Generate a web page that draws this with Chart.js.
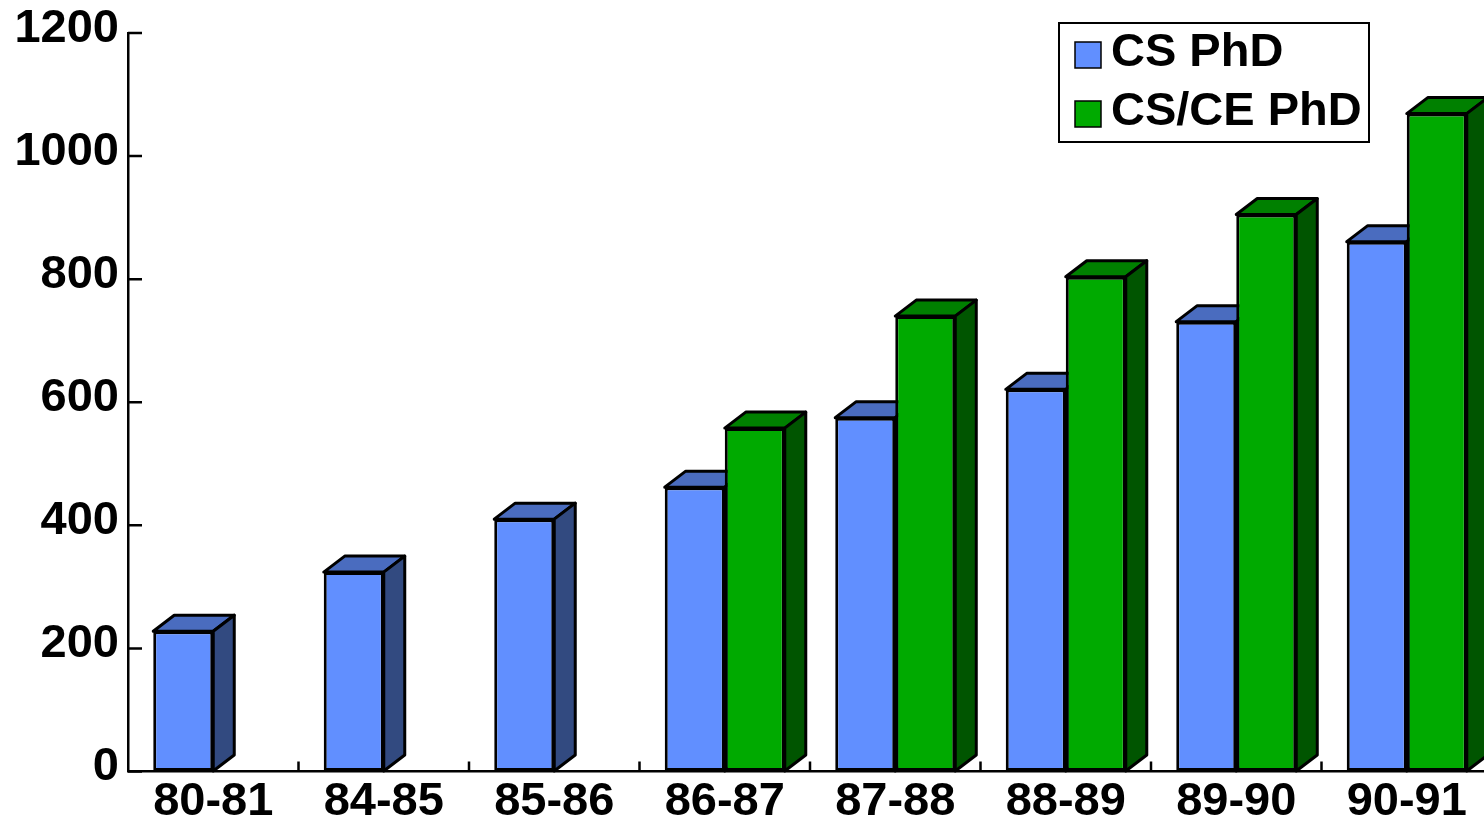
<!DOCTYPE html>
<html>
<head>
<meta charset="utf-8">
<script src="https://cdn.jsdelivr.net/npm/chart.js@4/dist/chart.umd.min.js"></script>
<style>
  html, body { margin: 0; padding: 0; background: #fff; overflow: hidden; }
  #wrap { width: 1500px; height: 823px; }
</style>
</head>
<body>
<div id="wrap"><canvas id="c" width="1500" height="823"></canvas></div>
<script>
// Academic years on the category axis
const years = ['80-81', '84-85', '85-86', '86-87', '87-88', '88-89', '89-90', '90-91'];
// PhDs awarded per year
const csPhd = [228, 324, 410, 462, 575, 621, 731, 861];
const csCePhd = [null, null, null, 558, 740, 804, 905, 1069];
// Value axis ticks
const yTicks = [0, 200, 400, 600, 800, 1000, 1200];

const FONT = 'Liberation Sans, Arial, sans-serif';
const FONT_SIZE = 47;

// Face colours for each series: front, top, side
const faces = [
  { front: '#618fff', top: '#4a6cbf', side: '#324a80' },
  { front: '#00aa00', top: '#008000', side: '#005500' }
];
const DEPTH_X = 21, DEPTH_Y = 16;

function poly(ctx, pts, fill) {
  ctx.beginPath();
  ctx.moveTo(pts[0][0], pts[0][1]);
  for (let i = 1; i < pts.length; i++) ctx.lineTo(pts[i][0], pts[i][1]);
  ctx.closePath();
  ctx.fillStyle = fill;
  ctx.fill();
  ctx.stroke();
}

// Top and right faces behind the bar fronts
const extrude = {
  id: 'extrude',
  beforeDatasetsDraw(chart) {
    const ctx = chart.ctx;
    ctx.save();
    ctx.lineWidth = 3;
    ctx.strokeStyle = '#000';
    ctx.lineJoin = 'round';
    chart.data.datasets.forEach((ds, di) => {
      const meta = chart.getDatasetMeta(di);
      meta.data.forEach((bar, i) => {
        if (ds.data[i] == null) return;
        const p = bar.getProps(['x', 'y', 'base', 'width'], true);
        const L = p.x - p.width / 2, R = p.x + p.width / 2, T = p.y, B = p.base;
        poly(ctx, [[L, T], [L + DEPTH_X, T - DEPTH_Y], [R + DEPTH_X, T - DEPTH_Y], [R, T]], faces[di].top);
        poly(ctx, [[R, T], [R + DEPTH_X, T - DEPTH_Y], [R + DEPTH_X, B - DEPTH_Y], [R, B]], faces[di].side);
      });
    });
    ctx.restore();
  }
};

// Inward tick marks and the framed legend
const decor = {
  id: 'decor',
  afterDraw(chart) {
    const ctx = chart.ctx;
    const xs = chart.scales.x, ys = chart.scales.y;
    const area = chart.chartArea;
    ctx.save();
    ctx.strokeStyle = '#000';
    ctx.lineWidth = 2.5;
    ctx.beginPath();
    yTicks.forEach(v => {
      const y = ys.getPixelForValue(v);
      ctx.moveTo(area.left, y);
      ctx.lineTo(area.left + 14, y);
    });
    for (let i = 0; i < years.length - 1; i++) {
      const x = (xs.getPixelForValue(i) + xs.getPixelForValue(i + 1)) / 2;
      ctx.moveTo(x, area.bottom);
      ctx.lineTo(x, area.bottom - 10);
    }
    ctx.stroke();

    // legend
    ctx.lineWidth = 2;
    ctx.fillStyle = '#fff';
    ctx.fillRect(1059, 23, 310, 119);
    ctx.strokeRect(1059, 23, 310, 119);
    ctx.font = 'bold ' + FONT_SIZE + 'px ' + FONT;
    ctx.textBaseline = 'alphabetic';
    ctx.textAlign = 'left';
    const baselines = [66, 125];
    chart.data.datasets.forEach((ds, di) => {
      const b = baselines[di];
      ctx.fillStyle = faces[di].front;
      ctx.lineWidth = 1.5;
      ctx.fillRect(1075, b - 24, 26, 26);
      ctx.strokeRect(1075, b - 24, 26, 26);
      ctx.fillStyle = '#000';
      ctx.fillText(ds.label, 1111, b);
    });
    ctx.restore();
  }
};

new Chart(document.getElementById('c'), {
  type: 'bar',
  data: {
    labels: years,
    datasets: [
      { label: 'CS PhD', data: csPhd, backgroundColor: faces[0].front },
      { label: 'CS/CE PhD', data: csCePhd, backgroundColor: faces[1].front }
    ]
  },
  options: {
    responsive: false,
    devicePixelRatio: 1,
    animation: false,
    layout: { padding: { top: 33, right: 8, left: 0, bottom: 0 } },
    datasets: {
      bar: {
        categoryPercentage: 0.704,
        barPercentage: 1.0,
        borderColor: '#000',
        borderWidth: 3,
        borderSkipped: false
      }
    },
    plugins: {
      legend: { display: false },
      tooltip: { enabled: false }
    },
    scales: {
      x: {
        offset: true,
        grid: { drawOnChartArea: false, drawTicks: false },
        border: { color: '#000', width: 2.5 },
        ticks: { color: '#000', padding: 2, font: { family: FONT, size: FONT_SIZE, weight: 'bold' } },
        afterFit(scale) { scale.height = 51.5; }
      },
      y: {
        min: 0,
        max: 1200,
        afterBuildTicks(scale) { scale.ticks = yTicks.map(v => ({ value: v })); },
        grid: { drawOnChartArea: false, drawTicks: false },
        border: { color: '#000', width: 2.5 },
        ticks: {
          color: '#000',
          padding: 9,
          labelOffset: -4,
          callback: v => String(v),
          font: { family: FONT, size: FONT_SIZE, weight: 'bold', lineHeight: 1 }
        },
        afterFit(scale) { scale.width = 128; }
      }
    }
  },
  plugins: [extrude, decor]
});
</script>
</body>
</html>
